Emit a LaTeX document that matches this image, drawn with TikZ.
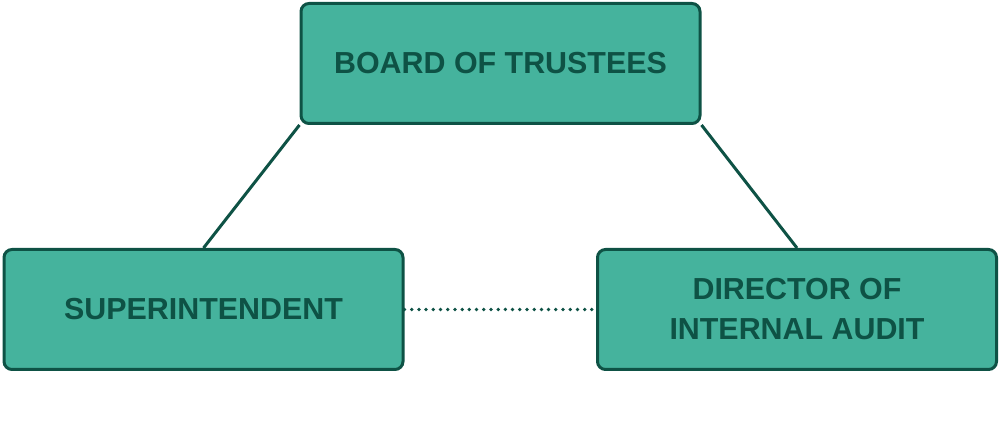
\documentclass[tikz,border=0pt]{standalone}
\usepackage{fontspec}
\setmainfont{Liberation Sans}
\definecolor{boxfill}{HTML}{45B39D}
\definecolor{boxline}{HTML}{0E5245}
\begin{document}
\begin{tikzpicture}[
    orgbox/.style={draw=boxline, fill=boxfill, line width=0.06cm, rounded corners=0.16cm,
        minimum width=7.98cm, minimum height=2.4cm, align=center, text=boxline,
        font=\fontsize{17.3}{22.8}\selectfont\bfseries},
    link/.style={draw=boxline, line width=0.06cm}
]
    % Canvas
    \useasboundingbox (0,0) rectangle (20,-8.64);

    % Boxes
    \node[orgbox] (board) at (10.01,-1.27) {BOARD OF TRUSTEES};
    \node[orgbox] (super) at (4.07,-6.19) {SUPERINTENDENT};
    \node[orgbox] (audit) at (15.94,-6.19) {DIRECTOR OF\\INTERNAL AUDIT};

    % Connectors
    \draw[link] (board.south west) -- (super.north);
    \draw[link] (board.south east) -- (audit.north);
    \draw[link, line width=0.075cm, line cap=round, dash pattern=on 0pt off 4.1pt] (super.east) -- (audit.west);
\end{tikzpicture}
\end{document}
